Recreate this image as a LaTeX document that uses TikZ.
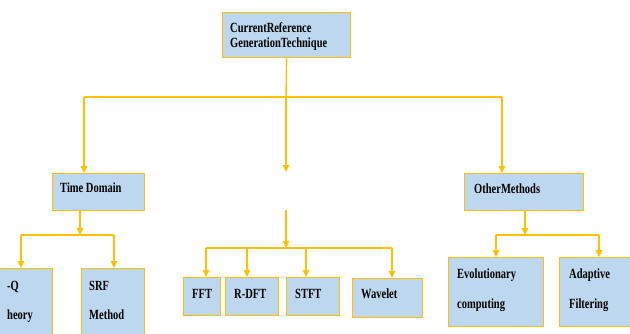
\documentclass[tikz,border=0pt]{standalone}
\usepackage{fontspec}
\setmainfont{Liberation Serif}
\newfontfamily\labfont[FakeStretch=0.75]{Liberation Serif}
\usetikzlibrary{arrows.meta}
\definecolor{boxfill}{RGB}{189,215,238}
\definecolor{gold}{RGB}{255,192,0}
\begin{document}
\begin{tikzpicture}[x=1pt,y=-1pt,
 box/.style={draw=gold, fill=boxfill, line width=1.3pt, inner sep=0pt, anchor=north west},
 txt/.style={anchor=base west, inner sep=0pt, font=\labfont\bfseries\fontsize{14}{16}\selectfont},
 conn/.style={draw=gold, line width=1.4pt},
 arr/.style={conn, -{Triangle[width=6.5pt,length=7pt]}}]
\useasboundingbox (0,0) rectangle (630,333);
\begin{scope}
\clip (0,0) rectangle (630,333);
% boxes
\node[box, minimum width=128pt, minimum height=45pt] (top) at (222,12) {};
\node[box, minimum width=92pt, minimum height=37pt] (td) at (52,173) {};
\node[box, minimum width=92pt, minimum height=100pt] (pq) at (-40,268) {};
\node[box, minimum width=63pt, minimum height=100pt] (srf) at (81,268) {};
\node[box, minimum width=37pt, minimum height=38pt] (fft) at (183,277) {};
\node[box, minimum width=53pt, minimum height=38pt] (rdft) at (225,277) {};
\node[box, minimum width=53pt, minimum height=38pt] (stft) at (286,277) {};
\node[box, minimum width=70pt, minimum height=39pt] (wav) at (352,278) {};
\node[box, minimum width=119pt, minimum height=37pt] (om) at (464,173) {};
\node[box, minimum width=95pt, minimum height=69pt] (evo) at (448,257) {};
\node[box, minimum width=100pt, minimum height=69pt] (ada) at (559,257) {};
% texts
\node[txt] (t1) at (230,32) {CurrentReference};
\node[txt] (t2) at (230,47) {GenerationTechnique};
\node[txt] (t3) at (60,192) {Time Domain};
\node[txt] (t4) at (7,290) {-Q};
\node[txt] (t5) at (7,319) {heory};
\node[txt] (t6) at (89,290) {SRF};
\node[txt] (t7) at (89,319) {Method};
\node[txt] (t8) at (192,298) {FFT};
\node[txt] (t9) at (234,298) {R-DFT};
\node[txt] (t10) at (295,298) {STFT};
\node[txt] (t11) at (361,298) {Wavelet};
\node[txt] (t12) at (474,193) {OtherMethods};
\node[txt] (t13) at (457,278) {Evolutionary};
\node[txt] (t14) at (457,308) {computing};
\node[txt] (t15) at (569,278) {Adaptive};
\node[txt] (t16) at (569,308) {Filtering};
% junction coordinates
\coordinate (j1) at (286,97);
\coordinate (jl) at (84,97);
\coordinate (jr) at (502,97);
\coordinate (mend) at (286,172);
\coordinate (mstart) at (286,210);
\coordinate (j2) at (286,248);
\coordinate (a1) at (206,248);
\coordinate (a2) at (247,248);
\coordinate (a3) at (306,248);
\coordinate (a4) at (392,248);
\coordinate (tdo) at (80,210);
\coordinate (tj) at (80,235);
\coordinate (tl) at (21,235);
\coordinate (tr) at (114,235);
\coordinate (omo) at (525,210);
\coordinate (oj) at (525,235);
\coordinate (ol) at (496,235);
\coordinate (or) at (599,235);
% connectors
\draw[conn] (top.south) -- (j1);
\draw[conn] (jl) -- (jr);
\draw[arr] (jl) -- (jl |- td.north);
\draw[arr] (jr) -- (jr |- om.north);
\draw[arr] (j1) -- (mend);
\draw[arr] (mstart) -- (j2);
\draw[conn] (a1) -- (a4);
\draw[arr] (a1) -- (a1 |- fft.north);
\draw[arr] (a2) -- (a2 |- rdft.north);
\draw[arr] (a3) -- (a3 |- stft.north);
\draw[arr] (a4) -- (a4 |- wav.north);
\draw[arr] (tdo) -- (tj);
\draw[conn] (tl) -- (tr);
\draw[arr] (tl) -- (tl |- pq.north);
\draw[arr] (tr) -- (tr |- srf.north);
\draw[arr] (omo) -- (oj);
\draw[conn] (ol) -- (or);
\draw[arr] (ol) -- (ol |- evo.north);
\draw[arr] (or) -- (or |- ada.north);
\end{scope}
\end{tikzpicture}
\end{document}
